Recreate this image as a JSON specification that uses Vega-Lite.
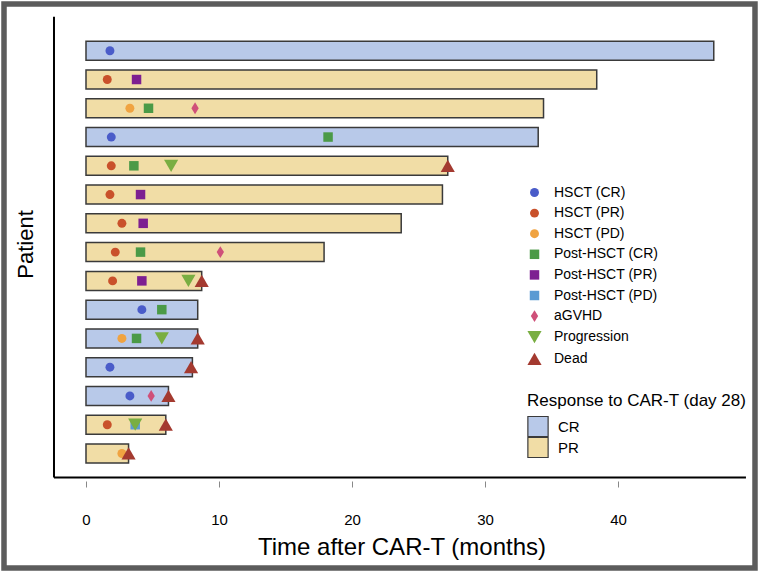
{
  "$schema": "https://vega.github.io/schema/vega-lite/v6.json",
  "width": 751,
  "height": 564,
  "autosize": {"type": "none"},
  "padding": {"left": 4, "top": 4, "right": 4, "bottom": 4},
  "background": "white",
  "config": {
    "view": {"stroke": "#5c5c5c", "strokeWidth": 5.5},
    "font": "Liberation Sans"
  },
  "datasets": {
    "bars": [
      {"patient": 1, "end": 47.2, "response": "CR"},
      {"patient": 2, "end": 38.4, "response": "PR"},
      {"patient": 3, "end": 34.4, "response": "PR"},
      {"patient": 4, "end": 34.0, "response": "CR"},
      {"patient": 5, "end": 27.2, "response": "PR"},
      {"patient": 6, "end": 26.8, "response": "PR"},
      {"patient": 7, "end": 23.7, "response": "PR"},
      {"patient": 8, "end": 17.9, "response": "PR"},
      {"patient": 9, "end": 8.7, "response": "PR"},
      {"patient": 10, "end": 8.4, "response": "CR"},
      {"patient": 11, "end": 8.4, "response": "CR"},
      {"patient": 12, "end": 8.0, "response": "CR"},
      {"patient": 13, "end": 6.2, "response": "CR"},
      {"patient": 14, "end": 6.0, "response": "PR"},
      {"patient": 15, "end": 3.2, "response": "PR"}
    ],
    "events": [
      {"patient": 1, "time": 1.8, "event": "HSCT (CR)"},
      {"patient": 2, "time": 1.6, "event": "HSCT (PR)"},
      {"patient": 2, "time": 3.8, "event": "Post-HSCT (PR)"},
      {"patient": 3, "time": 3.3, "event": "HSCT (PD)"},
      {"patient": 3, "time": 4.7, "event": "Post-HSCT (CR)"},
      {"patient": 3, "time": 8.2, "event": "aGVHD"},
      {"patient": 4, "time": 1.9, "event": "HSCT (CR)"},
      {"patient": 4, "time": 18.2, "event": "Post-HSCT (CR)"},
      {"patient": 5, "time": 1.9, "event": "HSCT (PR)"},
      {"patient": 5, "time": 3.6, "event": "Post-HSCT (CR)"},
      {"patient": 5, "time": 6.4, "event": "Progression"},
      {"patient": 5, "time": 27.2, "event": "Dead"},
      {"patient": 6, "time": 1.8, "event": "HSCT (PR)"},
      {"patient": 6, "time": 4.1, "event": "Post-HSCT (PR)"},
      {"patient": 7, "time": 2.7, "event": "HSCT (PR)"},
      {"patient": 7, "time": 4.3, "event": "Post-HSCT (PR)"},
      {"patient": 8, "time": 2.2, "event": "HSCT (PR)"},
      {"patient": 8, "time": 4.1, "event": "Post-HSCT (CR)"},
      {"patient": 8, "time": 10.1, "event": "aGVHD"},
      {"patient": 9, "time": 2.0, "event": "HSCT (PR)"},
      {"patient": 9, "time": 4.2, "event": "Post-HSCT (PR)"},
      {"patient": 9, "time": 7.7, "event": "Progression"},
      {"patient": 9, "time": 8.7, "event": "Dead"},
      {"patient": 10, "time": 4.2, "event": "HSCT (CR)"},
      {"patient": 10, "time": 5.7, "event": "Post-HSCT (CR)"},
      {"patient": 11, "time": 2.7, "event": "HSCT (PD)"},
      {"patient": 11, "time": 3.8, "event": "Post-HSCT (CR)"},
      {"patient": 11, "time": 5.7, "event": "Progression"},
      {"patient": 11, "time": 8.4, "event": "Dead"},
      {"patient": 12, "time": 1.8, "event": "HSCT (CR)"},
      {"patient": 12, "time": 7.9, "event": "Dead"},
      {"patient": 13, "time": 3.3, "event": "HSCT (CR)"},
      {"patient": 13, "time": 4.9, "event": "aGVHD"},
      {"patient": 13, "time": 6.2, "event": "Dead"},
      {"patient": 14, "time": 1.6, "event": "HSCT (PR)"},
      {"patient": 14, "time": 3.7, "event": "Post-HSCT (PD)"},
      {"patient": 14, "time": 3.7, "event": "Progression"},
      {"patient": 14, "time": 6.0, "event": "Dead"},
      {"patient": 15, "time": 2.7, "event": "HSCT (PD)"},
      {"patient": 15, "time": 3.2, "event": "Dead"}
    ]
  },
  "layer": [
    {
      "data": {"name": "bars"},
      "mark": {"type": "bar", "orient": "horizontal", "size": 19, "stroke": "#3a3a3a", "strokeWidth": 1.5},
      "encoding": {
        "x": {
          "field": "end", "type": "quantitative",
          "scale": {"domain": [-6.165, 50.3], "nice": false, "zero": false},
          "axis": {
            "values": [0, 10, 20, 30, 40], "offset": -87, "domain": false, "grid": false,
            "tickSize": 6, "tickColor": "#888888", "tickWidth": 1,
            "labelFontSize": 15, "labelColor": "#000000", "labelPadding": 25,
            "title": "Time after CAR-T (months)", "titleFontSize": 24, "titleFontWeight": "normal",
            "titleColor": "#000000", "titleX": 397.5, "titleY": 54, "titleBaseline": "top", "titleAlign": "center"
          }
        },
        "y": {
          "field": "patient", "type": "quantitative",
          "scale": {"domain": [-0.451, 18.807], "reverse": true, "nice": false, "zero": false},
          "axis": {
            "offset": -50, "domain": false, "grid": false, "ticks": false, "labels": false,
            "title": "Patient", "titleFontSize": 22, "titleFontWeight": "normal", "titleColor": "#000000",
            "titleX": -16.4, "titleY": 240, "titleBaseline": "bottom", "titleAngle": -90, "titleAlign": "center"
          }
        },
        "fill": {
          "field": "response", "type": "nominal",
          "scale": {"domain": ["CR", "PR"], "range": ["#b8c9e9", "#f1dda6"]},
          "legend": {
            "title": "Response to CAR-T (day 28)", "orient": "none", "legendX": 523, "legendY": 389,
            "titleFontSize": 17, "titleFontWeight": "normal", "titleColor": "#000000", "titlePadding": 6, "titleLimit": 400,
            "symbolType": "square", "symbolSize": 410, "symbolStrokeColor": "#3a3a3a", "symbolStrokeWidth": 1.2,
            "symbolOpacity": 1, "rowPadding": 0, "clipHeight": 21, "labelFontSize": 15, "labelColor": "#000000", "labelOffset": 9,
            "padding": 0
          }
        }
      }
    },
    {
      "data": {"name": "events"},
      "mark": {"type": "point", "filled": true, "opacity": 1, "strokeWidth": 0},
      "encoding": {
        "x": {"field": "time", "type": "quantitative"},
        "y": {"field": "patient", "type": "quantitative"},
        "color": {
          "field": "event", "type": "nominal",
          "scale": {
            "domain": ["HSCT (CR)", "HSCT (PR)", "HSCT (PD)", "Post-HSCT (CR)", "Post-HSCT (PR)", "Post-HSCT (PD)", "aGVHD", "Progression", "Dead"],
            "range": ["#4a5cc9", "#c9512b", "#f0a341", "#4b9a47", "#7d1f91", "#5b9bd3", "#cf5079", "#79ae42", "#a43a30"]
          },
          "legend": {
            "title": null, "orient": "none", "legendX": 523, "legendY": 181.5,
            "labelFontSize": 14, "labelColor": "#000000", "labelOffset": 12, "rowPadding": 6.6,
            "symbolOpacity": 1, "symbolStrokeWidth": 0, "padding": 0
          }
        },
        "shape": {
          "field": "event", "type": "nominal",
          "scale": {
            "domain": ["HSCT (CR)", "HSCT (PR)", "HSCT (PD)", "Post-HSCT (CR)", "Post-HSCT (PR)", "Post-HSCT (PD)", "aGVHD", "Progression", "Dead"],
            "range": ["circle", "circle", "circle", "square", "square", "square", "M0,-1L0.62,0L0,1L-0.62,0Z", "triangle-down", "triangle-up"]
          }
        },
        "size": {
          "field": "event", "type": "nominal",
          "scale": {
            "type": "ordinal",
            "domain": ["HSCT (CR)", "HSCT (PR)", "HSCT (PD)", "Post-HSCT (CR)", "Post-HSCT (PR)", "Post-HSCT (PD)", "aGVHD", "Progression", "Dead"],
            "range": [80, 80, 80, 90, 90, 90, 140, 200, 200]
          }
        }
      }
    },
    {
      "data": {"values": [{}]},
      "mark": {"type": "rule", "color": "#000000", "strokeWidth": 2},
      "encoding": {
        "x": {"datum": -2.406, "type": "quantitative"},
        "y": {"datum": -0.178, "type": "quantitative"},
        "y2": {"datum": 15.837}
      }
    },
    {
      "data": {"values": [{}]},
      "mark": {"type": "rule", "color": "#000000", "strokeWidth": 2},
      "encoding": {
        "x": {"datum": -2.406, "type": "quantitative"},
        "x2": {"datum": 49.62},
        "y": {"datum": 15.837, "type": "quantitative"}
      }
    }
  ]
}
